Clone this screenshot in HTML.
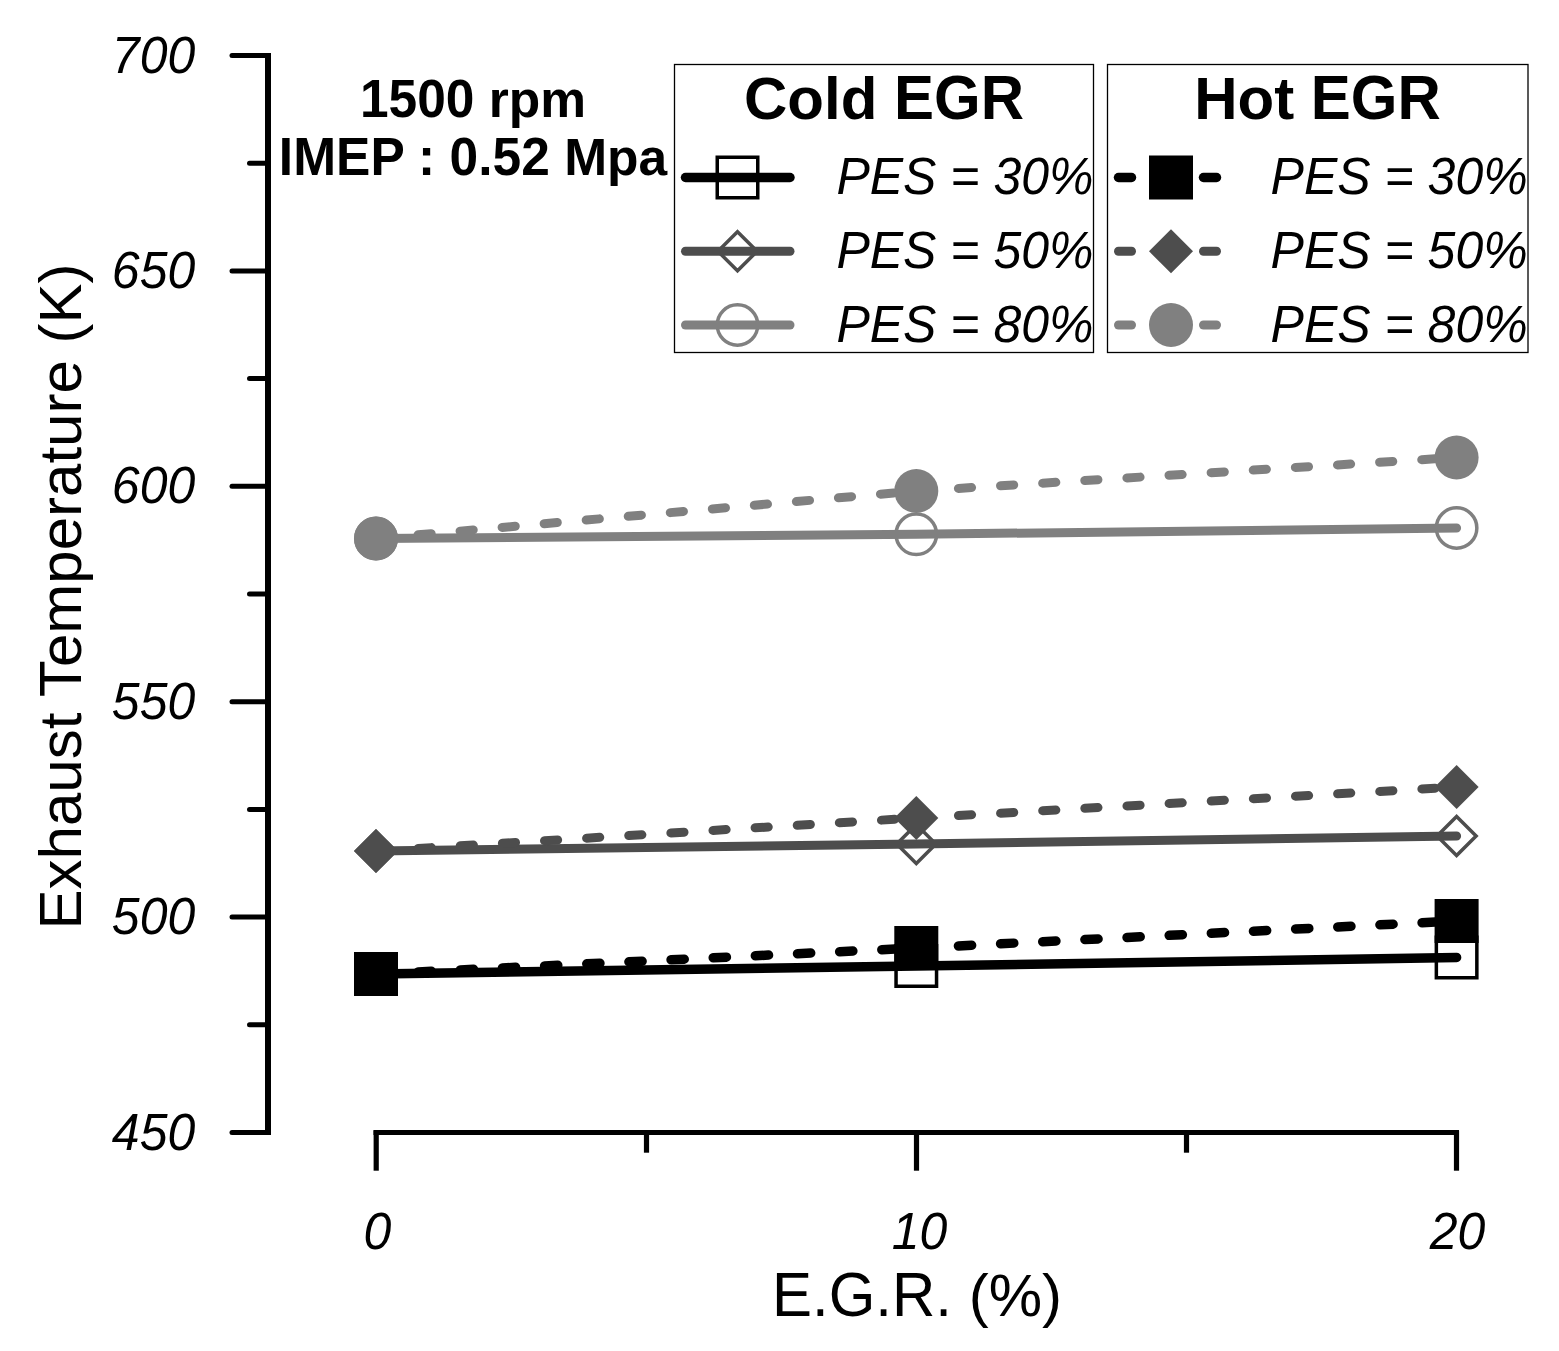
<!DOCTYPE html>
<html><head><meta charset="utf-8"><title>Exhaust Temperature vs EGR</title>
<style>
html,body{margin:0;padding:0;background:#fff;overflow:hidden;}
svg{display:block;}
</style></head>
<body>
<svg width="1559" height="1351" viewBox="0 0 1559 1351">
<rect width="1559" height="1351" fill="#fff"/>
<g stroke="#000" fill="none" stroke-linecap="round">
<line x1="268" y1="53" x2="268" y2="1135" stroke-width="6" stroke-linecap="butt"/>
<line x1="232" y1="55.5" x2="268" y2="55.5" stroke-width="5"/>
<line x1="249.5" y1="163.2" x2="268" y2="163.2" stroke-width="5"/>
<line x1="232" y1="270.9" x2="268" y2="270.9" stroke-width="5"/>
<line x1="249.5" y1="378.6" x2="268" y2="378.6" stroke-width="5"/>
<line x1="232" y1="486.3" x2="268" y2="486.3" stroke-width="5"/>
<line x1="249.5" y1="594.0" x2="268" y2="594.0" stroke-width="5"/>
<line x1="232" y1="701.7" x2="268" y2="701.7" stroke-width="5"/>
<line x1="249.5" y1="809.4" x2="268" y2="809.4" stroke-width="5"/>
<line x1="232" y1="917.1" x2="268" y2="917.1" stroke-width="5"/>
<line x1="249.5" y1="1024.8" x2="268" y2="1024.8" stroke-width="5"/>
<line x1="232" y1="1132.5" x2="268" y2="1132.5" stroke-width="5"/>
<line x1="373.5" y1="1132.5" x2="1459" y2="1132.5" stroke-width="5" stroke-linecap="butt"/>
<line x1="376.2" y1="1130.5" x2="376.2" y2="1170.7" stroke-width="5.2" stroke-linecap="butt"/>
<line x1="646.5" y1="1130.5" x2="646.5" y2="1152.7" stroke-width="5.2" stroke-linecap="butt"/>
<line x1="916.5" y1="1130.5" x2="916.5" y2="1170.7" stroke-width="5.2" stroke-linecap="butt"/>
<line x1="1186.5" y1="1130.5" x2="1186.5" y2="1152.7" stroke-width="5.2" stroke-linecap="butt"/>
<line x1="1456.5" y1="1130.5" x2="1456.5" y2="1170.7" stroke-width="5.2" stroke-linecap="butt"/>
</g>
<g font-family="Liberation Sans, Arial, Helvetica, sans-serif" fill="#000">
<text transform="translate(195.3 72.5) translate(-83.44 0) scale(1 1.0405)" font-size="50" font-style="italic">700</text>
<text transform="translate(195.3 287.9) translate(-83.44 0) scale(1 1.0405)" font-size="50" font-style="italic">650</text>
<text transform="translate(195.3 503.3) translate(-83.44 0) scale(1 1.0405)" font-size="50" font-style="italic">600</text>
<text transform="translate(195.3 718.7) translate(-83.44 0) scale(1 1.0405)" font-size="50" font-style="italic">550</text>
<text transform="translate(195.3 934.1) translate(-83.44 0) scale(1 1.0405)" font-size="50" font-style="italic">500</text>
<text transform="translate(195.3 1149.5) translate(-83.44 0) scale(1 1.0405)" font-size="50" font-style="italic">450</text>
<text transform="translate(377.5 1249.3) translate(-13.91 0) scale(1 1.0405)" font-size="50" font-style="italic">0</text>
<text transform="translate(919.5 1249.3) translate(-27.81 0) scale(1 1.0405)" font-size="50" font-style="italic">10</text>
<text transform="translate(1457.5 1249.3) translate(-27.81 0) scale(1 1.0405)" font-size="50" font-style="italic">20</text>
<text transform="translate(917 1315.8) translate(-145.01 0) scale(1 1.0405)" font-size="60">E.G.R.</text>
<text transform="translate(917 1315.8) translate(51.68 0)" font-size="60">(%)</text>
<text transform="translate(81 596.5) rotate(-90) translate(-332.93 0)" font-size="60">Exhaust Temperature (K)</text>
<text transform="translate(473 117.3) translate(-113.09 0) scale(1 1.0405)" font-size="51.5" font-weight="bold">1500</text>
<text transform="translate(473 117.3) translate(15.79 0)" font-size="51.5" font-weight="bold">rpm</text>
<text transform="translate(473 175.2) translate(-194.15 0) scale(1 1.0405)" font-size="51.5" font-weight="bold">IMEP : 0.52</text>
<text transform="translate(473 175.2) translate(91.13 0)" font-size="51.5" font-weight="bold">Mpa</text>
<text transform="translate(884 119.3) translate(-140 0)" font-size="60" font-weight="bold">Cold</text>
<text transform="translate(884 119.3) translate(9.97 0) scale(1 1.0405)" font-size="60" font-weight="bold">EGR</text>
<text transform="translate(1317.5 119) translate(-123.33 0)" font-size="60" font-weight="bold">Hot</text>
<text transform="translate(1317.5 119) translate(-6.7 0) scale(1 1.0405)" font-size="60" font-weight="bold">EGR</text>
<text transform="translate(1093.5 194) translate(-257.11 0) scale(1 1.0405)" font-size="50" font-style="italic">PES = 30%</text>
<text transform="translate(1527.7 194) translate(-257.11 0) scale(1 1.0405)" font-size="50" font-style="italic">PES = 30%</text>
<text transform="translate(1093.5 268) translate(-257.11 0) scale(1 1.0405)" font-size="50" font-style="italic">PES = 50%</text>
<text transform="translate(1527.7 268) translate(-257.11 0) scale(1 1.0405)" font-size="50" font-style="italic">PES = 50%</text>
<text transform="translate(1093.5 342) translate(-257.11 0) scale(1 1.0405)" font-size="50" font-style="italic">PES = 80%</text>
<text transform="translate(1527.7 342) translate(-257.11 0) scale(1 1.0405)" font-size="50" font-style="italic">PES = 80%</text>
</g>
<circle cx="376.0" cy="538.5" r="20.25" fill="#fff" stroke="#808080" stroke-width="3.5"/>
<circle cx="916.3" cy="534.3" r="20.25" fill="#fff" stroke="#808080" stroke-width="3.5"/>
<circle cx="1456.6" cy="528" r="20.25" fill="#fff" stroke="#808080" stroke-width="3.5"/>
<path d="M376.0 831.45L395.55 851L376.0 870.55L356.45 851Z" fill="#fff" stroke="#4d4d4d" stroke-width="3.5" stroke-linejoin="miter"/>
<path d="M916.3 824.45L935.8499999999999 844L916.3 863.55L896.75 844Z" fill="#fff" stroke="#4d4d4d" stroke-width="3.5" stroke-linejoin="miter"/>
<path d="M1456.6 816.45L1476.1499999999999 836L1456.6 855.55L1437.05 836Z" fill="#fff" stroke="#4d4d4d" stroke-width="3.5" stroke-linejoin="miter"/>
<rect x="355.75" y="953.75" width="40.5" height="40.5" fill="#fff" stroke="#000000" stroke-width="3.5"/>
<rect x="896.05" y="945.75" width="40.5" height="40.5" fill="#fff" stroke="#000000" stroke-width="3.5"/>
<rect x="1436.35" y="937.25" width="40.5" height="40.5" fill="#fff" stroke="#000000" stroke-width="3.5"/>
<path d="M376.0 538.5 L916.3 534.3 L1456.6 528" fill="none" stroke="#808080" stroke-width="9" stroke-linecap="round" stroke-linejoin="round"/>
<path d="M376.0 851 L916.3 844 L1456.6 836" fill="none" stroke="#4d4d4d" stroke-width="9" stroke-linecap="round" stroke-linejoin="round"/>
<path d="M376.0 974 L916.3 966 L1456.6 957.5" fill="none" stroke="#000000" stroke-width="9.5" stroke-linecap="round" stroke-linejoin="round"/>
<line x1="376.0" y1="538.5" x2="916.3" y2="491" stroke="#808080" stroke-width="9" stroke-linecap="round" stroke-dasharray="13.2 29"/>
<line x1="916.3" y1="491" x2="1456.6" y2="457.5" stroke="#808080" stroke-width="9" stroke-linecap="round" stroke-dasharray="13.2 29"/>
<line x1="376.0" y1="851" x2="916.3" y2="818" stroke="#4d4d4d" stroke-width="9" stroke-linecap="round" stroke-dasharray="13.2 29"/>
<line x1="916.3" y1="818" x2="1456.6" y2="787" stroke="#4d4d4d" stroke-width="9" stroke-linecap="round" stroke-dasharray="13.2 29"/>
<line x1="376.0" y1="974" x2="916.3" y2="948" stroke="#000000" stroke-width="9.5" stroke-linecap="round" stroke-dasharray="13.2 29"/>
<line x1="916.3" y1="948" x2="1456.6" y2="921" stroke="#000000" stroke-width="9.5" stroke-linecap="round" stroke-dasharray="13.2 29"/>
<circle cx="376.0" cy="538.5" r="22.0" fill="#808080"/>
<circle cx="916.3" cy="491" r="22.0" fill="#808080"/>
<circle cx="1456.6" cy="457.5" r="22.0" fill="#808080"/>
<path d="M376.0 829.0L398.0 851L376.0 873.0L354.0 851Z" fill="#4d4d4d"/>
<path d="M916.3 796.0L938.3 818L916.3 840.0L894.3 818Z" fill="#4d4d4d"/>
<path d="M1456.6 765.0L1478.6 787L1456.6 809.0L1434.6 787Z" fill="#4d4d4d"/>
<rect x="354.0" y="952.0" width="44" height="44" fill="#000000"/>
<rect x="894.3" y="926.0" width="44" height="44" fill="#000000"/>
<rect x="1434.6" y="899.0" width="44" height="44" fill="#000000"/>
<rect x="674.5" y="64.5" width="419" height="288" fill="none" stroke="#000" stroke-width="1.3"/>
<rect x="1107.5" y="64.5" width="420.5" height="288" fill="none" stroke="#000" stroke-width="1.3"/>
<rect x="717.25" y="157.25" width="40.5" height="40.5" fill="#fff" stroke="#000000" stroke-width="3.5"/>
<line x1="685.5" y1="177.5" x2="790" y2="177.5" stroke="#000000" stroke-width="9.5" stroke-linecap="round"/>
<line x1="1118.5" y1="177.5" x2="1131.5" y2="177.5" stroke="#000000" stroke-width="9.5" stroke-linecap="round"/>
<line x1="1203.5" y1="177.5" x2="1216.5" y2="177.5" stroke="#000000" stroke-width="9.5" stroke-linecap="round"/>
<rect x="1149.0" y="155.5" width="44" height="44" fill="#000000"/>
<path d="M737.5 231.75L757.05 251.3L737.5 270.85L717.95 251.3Z" fill="#fff" stroke="#4d4d4d" stroke-width="3.5" stroke-linejoin="miter"/>
<line x1="685.5" y1="251.3" x2="790" y2="251.3" stroke="#4d4d4d" stroke-width="9" stroke-linecap="round"/>
<line x1="1118.5" y1="251.3" x2="1131.5" y2="251.3" stroke="#4d4d4d" stroke-width="9" stroke-linecap="round"/>
<line x1="1203.5" y1="251.3" x2="1216.5" y2="251.3" stroke="#4d4d4d" stroke-width="9" stroke-linecap="round"/>
<path d="M1171 229.3L1193.0 251.3L1171 273.3L1149.0 251.3Z" fill="#4d4d4d"/>
<circle cx="737.5" cy="325" r="20.25" fill="#fff" stroke="#808080" stroke-width="3.5"/>
<line x1="685.5" y1="325" x2="790" y2="325" stroke="#808080" stroke-width="9" stroke-linecap="round"/>
<line x1="1118.5" y1="325" x2="1131.5" y2="325" stroke="#808080" stroke-width="9" stroke-linecap="round"/>
<line x1="1203.5" y1="325" x2="1216.5" y2="325" stroke="#808080" stroke-width="9" stroke-linecap="round"/>
<circle cx="1171" cy="325" r="22.0" fill="#808080"/>
</svg>
</body></html>
